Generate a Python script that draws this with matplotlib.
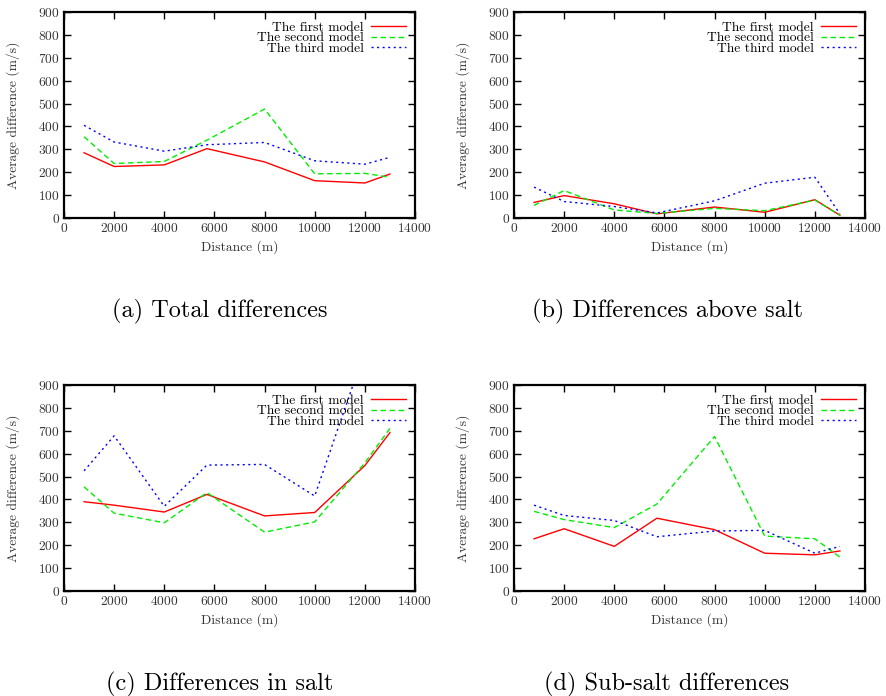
import matplotlib
matplotlib.use("Agg")
import matplotlib.pyplot as plt

plt.rcParams["font.family"] = ["cmr10", "DejaVu Serif"]
plt.rcParams["axes.formatter.use_mathtext"] = True

# distance along the line (m)
distance = [800, 2000, 4000, 5700, 8000, 10000, 12000, 13000]

# (a) total differences
total_first  = [285, 225, 232, 303, 245, 163, 153, 192]
total_second = [355, 238, 247, 340, 476, 193, 195, 178]
total_third  = [405, 332, 292, 320, 330, 250, 235, 265]

# (b) differences above salt
above_first  = [68, 98, 62, 18, 48, 25, 80, 12]
above_second = [55, 120, 35, 20, 42, 32, 78, 12]
above_third  = [135, 72, 50, 22, 75, 152, 178, 18]

# (c) differences in salt
salt_first  = [390, 375, 345, 422, 328, 343, 548, 692]
salt_second = [455, 340, 298, 430, 257, 302, 560, 710]
salt_third  = [525, 678, 370, 550, 553, 415, 1050, 1100]

# (d) sub-salt differences
sub_first  = [228, 272, 195, 318, 268, 165, 158, 175]
sub_second = [348, 312, 277, 380, 675, 240, 228, 148]
sub_third  = [375, 330, 308, 237, 262, 265, 165, 195]

labels = ["The first model", "The second model", "The third model"]
captions = ["(a) Total differences", "(b) Differences above salt",
            "(c) Differences in salt", "(d) Sub-salt differences"]

panels = [
    (total_first, total_second, total_third),
    (above_first, above_second, above_third),
    (salt_first, salt_second, salt_third),
    (sub_first, sub_second, sub_third),
]

W, H = 886, 696
boxes = [(64, 12), (514, 12), (64, 385), (514, 385)]  # left, top in pixels
caption_x = [220, 667, 220, 667]
aw, ah = 351, 206
fs = 9.7

fig = plt.figure(figsize=(W / 100, H / 100), dpi=100)

for (left, top), cx, (f, s, t), cap in zip(boxes, caption_x, panels, captions):
    ax = fig.add_axes([left / W, 1 - (top + ah) / H, aw / W, ah / H])
    ax.plot(distance, f, color="#ff0000", lw=1.0, label=labels[0])
    ax.plot(distance, s, color="#00ee00", lw=1.0, ls=(0, (4, 2.5)), label=labels[1])
    ax.plot(distance, t, color="#0000ff", lw=1.0, ls=(0, (1.5, 2.5)), label=labels[2])
    ax.set_xlim(0, 14000)
    ax.set_ylim(0, 900)
    ax.set_xticks(range(0, 14001, 2000))
    ax.set_yticks(range(0, 901, 100))
    ax.tick_params(direction="in", top=True, right=True, length=5, width=1.0,
                   labelsize=fs, pad=3, labelcolor="#333333")
    for sp in ax.spines.values():
        sp.set_linewidth(1.6)
    ax.set_xlabel("Distance (m)", fontsize=fs, labelpad=4, color="#333333")
    ax.set_ylabel("Average difference (m/s)", fontsize=fs, labelpad=13, color="#333333")
    ax.legend(loc="upper right", frameon=False, markerfirst=False, fontsize=fs,
              handlelength=2.6, handletextpad=0.5, labelspacing=-0.15,
              borderaxespad=0.5, borderpad=0.2)
    fig.text(cx / W, 1 - (top + 299) / H, cap, fontsize=17.5,
             ha="center", va="center")

fig.savefig("out.png", dpi=100)
